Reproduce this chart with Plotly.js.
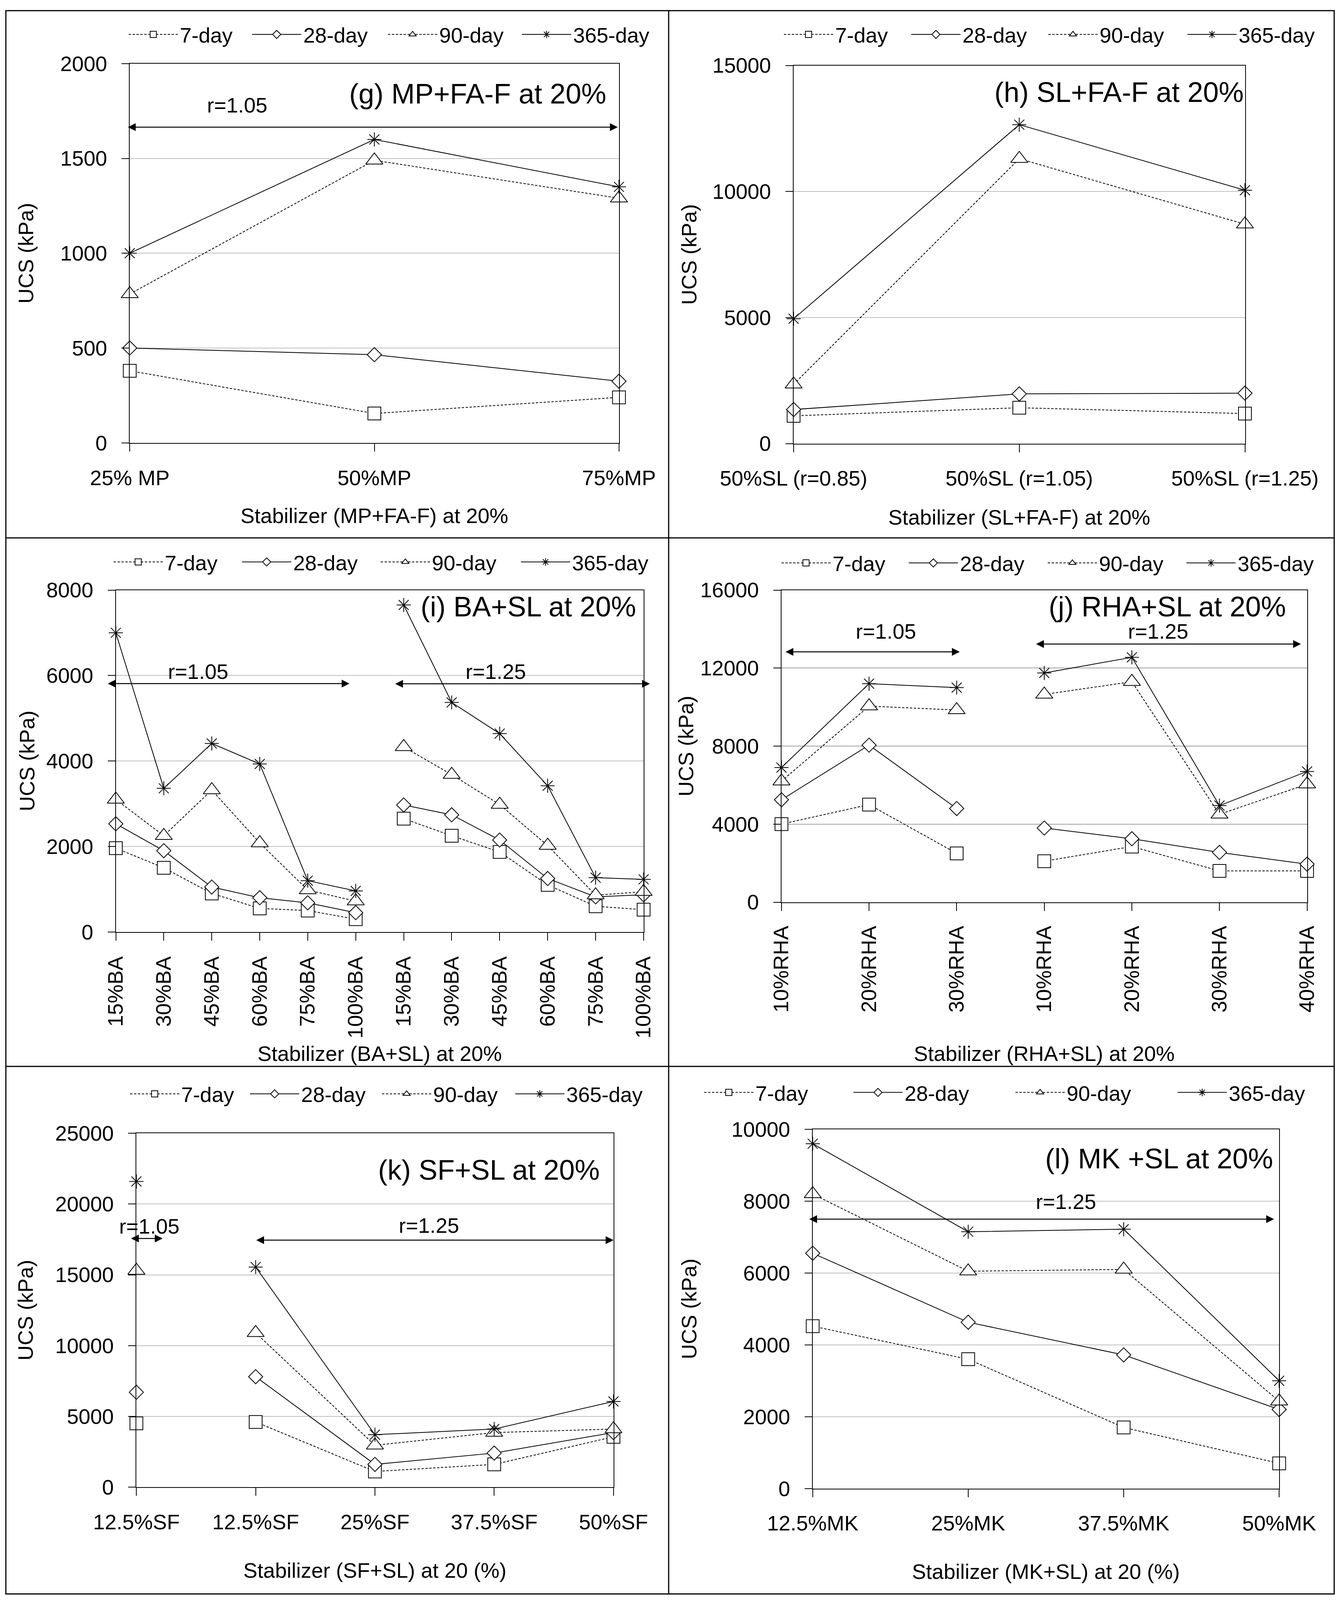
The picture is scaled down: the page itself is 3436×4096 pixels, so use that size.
<!DOCTYPE html>
<html>
<head>
<meta charset="utf-8">
<script src="https://cdn.plot.ly/plotly-3.0.1.min.js"></script>
<style>
html, body { margin: 0; padding: 0; background: #ffffff; }
#chart { width: 3436px; height: 4096px; }
</style>
</head>
<body>
<div id="chart"></div>
<script>
// ---------------- DATA ----------------
const seriesNames = ['7-day', '28-day', '90-day', '365-day'];

const gCategories = ['25% MP', '50%MP', '75%MP'];
const g7   = [380, 155, 240];
const g28  = [500, 465, 325];
const g90  = [785, 1490, 1290];
const g365 = [1000, 1600, 1350];

const hCategories = ['50%SL (r=0.85)', '50%SL (r=1.05)', '50%SL (r=1.25)'];
const h7   = [1100, 1420, 1190];
const h28  = [1350, 1970, 2000];
const h90  = [2350, 11300, 8700];
const h365 = [4950, 12650, 10050];

const iCategories = ['15%BA', '30%BA', '45%BA', '60%BA', '75%BA', '100%BA',
                     '15%BA', '30%BA', '45%BA', '60%BA', '75%BA', '100%BA'];
const iGroups = [6, 6];
const i7   = [1960, 1500, 900, 550, 500, 300,   2650, 2250, 1870, 1100, 600, 520];
const i28  = [2530, 1900, 1050, 800, 680, 450,  2970, 2740, 2150, 1250, 820, 870];
const i90  = [3100, 2250, 3320, 2080, 980, 720, 4330, 3680, 2980, 2020, 860, 940];
const i365 = [7000, 3360, 4410, 3930, 1200, 960, 7650, 5370, 4640, 3420, 1270, 1230];

const jCategories = ['10%RHA', '20%RHA', '30%RHA', '10%RHA', '20%RHA', '30%RHA', '40%RHA'];
const jGroups = [3, 4];
const j7   = [4000, 5000, 2500,   2100, 2850, 1600, 1600];
const j28  = [5250, 8050, 4800,   3800, 3250, 2550, 1950];
const j90  = [6200, 10050, 9850,  10650, 11300, 4500, 6050];
const j365 = [6900, 11200, 11000, 11750, 12550, 4950, 6700];

const kCategories = ['12.5%SF', '12.5%SF', '25%SF', '37.5%SF', '50%SF'];
const kGroups = [1, 4];
const k7   = [4500,   4600, 1100, 1600, 3550];
const k28  = [6700,   7800, 1600, 2400, 3850];
const k90  = [15300,  10900, 2950, 3850, 4100];
const k365 = [21600,  15550, 3700, 4100, 6050];

const lCategories = ['12.5%MK', '25%MK', '37.5%MK', '50%MK'];
const l7   = [4520, 3600, 1700, 700];
const l28  = [6550, 4630, 3720, 2200];
const l90  = [8200, 6050, 6100, 2430];
const l365 = [9600, 7150, 7220, 3000];

// ---------------- LAYOUT / STYLE ----------------
const W = 3436, H = 4096;
const FONT = 'Liberation Sans, Arial, Helvetica, sans-serif';
const FS = 54;
const ITEMW = 126;

const seriesStyle = [
  {dash: '6px,4px', symbol: 'square',        size: 33, fill: '#ffffff'},
  {dash: 'solid',   symbol: 'diamond',       size: 28, fill: '#ffffff'},
  {dash: '6px,4px', symbol: 'triangle-up',   size: 38, fill: '#ffffff'},
  {dash: 'solid',   symbol: 'asterisk-open', size: 30, fill: '#000000'}
];

const panels = [
  {tag: 'g', categories: gCategories, series: [g7, g28, g90, g365], groups: null,
   box: [332.2, 1584.8, 162.8, 1133.7], ymax: 2000, dtick: 500, angle: 0,
   xtitle: 'Stabilizer (MP+FA-F) at 20%', xstand: 50, ystand: 51, labStand: 21,
   title: '(g) MP+FA-F at 20%', titleRX: 1554, titleY: 240,
   legendX: 329.4, legendY: 88.5, legendW: [175, 207, 202, 200],
   ranges: [{text: 'r=1.05', tx: 607, ty: 269, from: -0.01, to: 1.995, y: 1665}]},
  {tag: 'h', categories: hCategories, series: [h7, h28, h90, h365], groups: null,
   box: [2031.9, 3187.5, 167.5, 1135.5], ymax: 15000, dtick: 5000, angle: 0,
   xtitle: 'Stabilizer (SL+FA-F) at 20%', xstand: 52, ystand: 23, labStand: 21,
   title: '(h) SL+FA-F at 20%', titleRX: 3186, titleY: 236,
   legendX: 2007.2, legendY: 88.5, legendW: [185, 210, 215, 200],
   ranges: []},
  {tag: 'i', categories: iCategories, series: [i7, i28, i90, i365], groups: iGroups,
   box: [296.5, 1647.9, 1510.5, 2385.7], ymax: 8000, dtick: 2000, angle: -90,
   xtitle: 'Stabilizer (BA+SL) at 20%', xstand: 21, ystand: 13, labStand: 19,
   title: '(i) BA+SL at 20%', titleRX: 1631, titleY: 1553,
   legendX: 290.8, legendY: 1439, legendW: [188, 214, 218, 200],
   ranges: [{text: 'r=1.05', tx: 507, ty: 1719, from: -0.18, to: 4.87, y: 5810},
            {text: 'r=1.25', tx: 1269, ty: 1719, from: 5.81, to: 11.13, y: 5806}]},
  {tag: 'j', categories: jCategories, series: [j7, j28, j90, j365], groups: jGroups,
   box: [2000.8, 3346.6, 1510.5, 2309.5], ymax: 16000, dtick: 4000, angle: -90,
   xtitle: 'Stabilizer (RHA+SL) at 20%', xstand: 87, ystand: 0, labStand: 17,
   title: '(j) RHA+SL at 20%', titleRX: 3295, titleY: 1553,
   legendX: 2000.7, legendY: 1441.5, legendW: [185, 215, 214, 200],
   ranges: [{text: 'r=1.05', tx: 2268, ty: 1616, from: 0.04, to: 2.035, y: 12830},
            {text: 'r=1.25', tx: 2965, ty: 1616, from: 2.90, to: 5.93, y: 13230}]},
  {tag: 'k', categories: kCategories, series: [k7, k28, k90, k365], groups: kGroups,
   box: [349.2, 1570.7, 2901.4, 3806.8], ymax: 25000, dtick: 5000, angle: 0,
   xtitle: 'Stabilizer (SF+SL) at 20 (%)', xstand: 77, ystand: 39, labStand: 21,
   title: '(k) SF+SL at 20%', titleRX: 1538, titleY: 2995,
   legendX: 333.1, legendY: 2800.7, legendW: [166, 197, 200, 200],
   ranges: [{text: 'r=1.05', tx: 382, ty: 3139, from: -0.05, to: 0.22, y: 17570},
            {text: 'r=1.25', tx: 1098, ty: 3137, from: 1.0, to: 4.0, y: 17450}]},
  {tag: 'l', categories: lCategories, series: [l7, l28, l90, l365], groups: null,
   box: [2080.8, 3275.1, 2891.1, 3810.6], ymax: 10000, dtick: 2000, angle: 0,
   xtitle: 'Stabilizer (MK+SL) at 20 (%)', xstand: 76, ystand: 72, labStand: 21,
   title: '(l) MK +SL at 20%', titleRX: 3262, titleY: 2966,
   legendX: 1803.0, legendY: 2797, legendW: [241, 274, 274, 200],
   ranges: [{text: 'r=1.25', tx: 2729, ty: 3076, from: -0.026, to: 2.967, y: 7500}]}
];

const traces = [];
const layout = {
  width: W, height: H,
  margin: {l: 0, r: 0, t: 0, b: 0, pad: 0},
  paper_bgcolor: '#ffffff', plot_bgcolor: '#ffffff',
  font: {family: FONT, size: FS, color: '#000000'},
  showlegend: true,
  annotations: [],
  shapes: []
};

panels.forEach((p, idx) => {
  const suf = idx === 0 ? '' : String(idx + 1);
  const xName = 'x' + suf, yName = 'y' + suf;
  const legendId = idx === 0 ? 'legend' : 'legend' + (idx + 1);
  const n = p.categories.length;
  const xs = p.categories.map((_, k) => k);
  const groups = p.groups || [n];
  const [L, R, T, B] = p.box;

  p.series.forEach((vals, si) => {
    const st = seriesStyle[si];
    let start = 0;
    groups.forEach((len, gi) => {
      traces.push({
        type: 'scatter', mode: 'lines+markers',
        x: xs.slice(start, start + len),
        y: vals.slice(start, start + len),
        xaxis: xName, yaxis: yName,
        name: seriesNames[si],
        legend: legendId,
        legendgroup: p.tag + si,
        showlegend: gi === 0,
        legendwidth: p.legendW[si],
        cliponaxis: false,
        line: {color: '#000000', width: 2, dash: st.dash},
        marker: {symbol: st.symbol, size: st.size, color: st.fill,
                 line: {color: '#000000', width: 2}},
        hoverinfo: 'skip'
      });
      start += len;
    });
  });

  layout['xaxis' + suf] = {
    domain: [L / W, R / W], anchor: yName,
    range: [0, n - 1],
    tickmode: 'array', tickvals: xs, ticktext: p.categories,
    tickangle: p.angle,
    ticks: 'outside', ticklen: 20, tickwidth: 2, tickcolor: '#000000',
    ticklabelstandoff: p.labStand,
    showline: true, mirror: true, linecolor: '#000000', linewidth: 2,
    showgrid: false, zeroline: false,
    tickfont: {family: FONT, size: FS, color: '#000000'},
    title: {text: p.xtitle, standoff: p.xstand, font: {family: FONT, size: FS, color: '#000000'}},
    fixedrange: true
  };
  layout['yaxis' + suf] = {
    domain: [1 - B / H, 1 - T / H], anchor: xName,
    range: [0, p.ymax], tick0: 0, dtick: p.dtick, tickformat: 'd',
    ticks: 'outside', ticklen: 19, tickwidth: 2, tickcolor: '#000000',
    ticklabelstandoff: 26,
    showline: true, mirror: true, linecolor: '#000000', linewidth: 2,
    showgrid: true, gridcolor: p.tag === 'j' ? '#a0a0a0' : '#c0c0c0', gridwidth: 2,
    zeroline: false,
    tickfont: {family: FONT, size: FS, color: '#000000'},
    title: {text: 'UCS (kPa)', standoff: p.ystand, font: {family: FONT, size: FS, color: '#000000'}},
    fixedrange: true
  };

  layout[legendId] = {
    orientation: 'h',
    x: (p.legendX - 5) / W, xanchor: 'left',
    y: 1 - p.legendY / H, yanchor: 'middle',
    itemwidth: ITEMW,
    font: {family: FONT, size: FS, color: '#000000'},
    bgcolor: 'rgba(0,0,0,0)', borderwidth: 0,
    traceorder: 'normal'
  };

  // panel title
  layout.annotations.push({
    text: p.title, xref: 'paper', yref: 'paper',
    x: p.titleRX / W, y: 1 - p.titleY / H, xanchor: 'right', yanchor: 'middle',
    showarrow: false, font: {family: FONT, size: 72, color: '#000000'}
  });

  // r ranges: label + double arrow
  p.ranges.forEach(r => {
    layout.annotations.push({
      text: r.text, xref: 'paper', yref: 'paper',
      x: r.tx / W, y: 1 - r.ty / H, xanchor: 'center', yanchor: 'middle',
      showarrow: false, font: {family: FONT, size: FS, color: '#000000'}
    });
    layout.annotations.push({
      text: '', xref: xName, yref: yName, axref: xName, ayref: yName,
      x: r.to, y: r.y, ax: r.from, ay: r.y,
      showarrow: true, arrowside: 'end+start',
      arrowhead: 2, startarrowhead: 2, arrowsize: 1.6, startarrowsize: 1.6,
      arrowwidth: 2.5, arrowcolor: '#000000', standoff: 0, startstandoff: 0
    });
  });
});

// figure frame and panel dividers
const frame = {L: 15, R: 3416, T: 27.3, B: 4080.5, colX: 1712, row1: 1377, row2: 2730};
const px = v => v / W, py = v => 1 - v / H;
const lineStyle = {color: '#000000', width: 3};
layout.shapes.push(
  {type: 'rect', xref: 'paper', yref: 'paper', x0: px(frame.L), x1: px(frame.R), y0: py(frame.B), y1: py(frame.T), line: lineStyle},
  {type: 'line', xref: 'paper', yref: 'paper', x0: px(frame.colX), x1: px(frame.colX), y0: py(frame.B), y1: py(frame.T), line: lineStyle},
  {type: 'line', xref: 'paper', yref: 'paper', x0: px(frame.L), x1: px(frame.R), y0: py(frame.row1), y1: py(frame.row1), line: lineStyle},
  {type: 'line', xref: 'paper', yref: 'paper', x0: px(frame.L), x1: px(frame.R), y0: py(frame.row2), y1: py(frame.row2), line: lineStyle}
);

Plotly.newPlot('chart', traces, layout, {staticPlot: true, displayModeBar: false});
</script>
</body>
</html>
